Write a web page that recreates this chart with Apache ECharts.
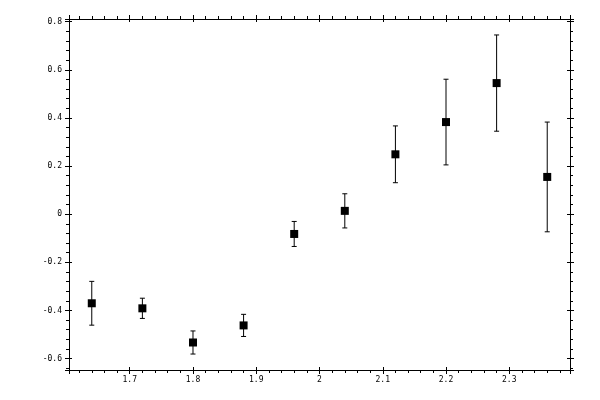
<!DOCTYPE html>
<html>
<head>
<meta charset="utf-8">
<script src="https://cdn.jsdelivr.net/npm/echarts@6/dist/echarts.min.js"></script>
<style>
  html, body { margin: 0; padding: 0; background: #fff; }
  #chart { width: 600px; height: 400px; }
</style>
</head>
<body>
<div id="chart"></div>
<script>
// data
const xValues = [1.64, 1.72, 1.80, 1.88, 1.96, 2.04, 2.12, 2.20, 2.28, 2.36]
const yValues = [-0.370, -0.391, -0.533, -0.462, -0.082, 0.014, 0.249, 0.383, 0.545, 0.155]
const yErrors = [0.091, 0.042, 0.048, 0.046, 0.052, 0.071, 0.118, 0.178, 0.200, 0.228]

// axis range = data range + 5% each side
const lows = yValues.map((v, i) => v - yErrors[i])
const highs = yValues.map((v, i) => v + yErrors[i])
const yLo = Math.min(...lows), yHi = Math.max(...highs)
const xLo = Math.min(...xValues), xHi = Math.max(...xValues)
const xPad = (xHi - xLo) * 0.05
const yPad = (yHi - yLo) * 0.05

const black = '#000'
const font = { fontFamily: 'DejaVu Sans Mono', fontSize: 8, color: black }

function makeAxis(kind, position, inside, withLabels) {
  const isX = kind === 'x'
  return {
    type: 'value',
    position: position,
    min: isX ? xLo - xPad : yLo - yPad,
    max: isX ? xHi + xPad : yHi + yPad,
    splitNumber: isX ? 8 : 7,
    scale: true,
    axisLine: { show: !inside, onZero: false, lineStyle: { color: black, width: 1 } },
    axisTick: { show: true, inside: inside, length: inside ? 3 : 4, lineStyle: { color: black, width: 1 } },
    minorTick: { show: !inside, splitNumber: 5, length: 3, lineStyle: { color: black, width: 1 } },
    axisLabel: {
      show: withLabels,
      showMinLabel: false,
      showMaxLabel: false,
      margin: isX ? 6 : 7,
      ...font,
    },
    splitLine: { show: false },
    minorSplitLine: { show: false },
  }
}

const myChart = echarts.init(document.getElementById('chart'))

const option = {
  animation: false,
  backgroundColor: '#fff',
  grid: { left: 69, right: 30, top: 19, bottom: 30, containLabel: false, outerBoundsMode: 'none' },
  xAxis: [
    makeAxis('x', 'bottom', false, true),
    makeAxis('x', 'top', false, false),
    makeAxis('x', 'bottom', true, false),
    makeAxis('x', 'top', true, false),
  ],
  yAxis: [
    makeAxis('y', 'left', false, true),
    makeAxis('y', 'right', false, false),
    makeAxis('y', 'left', true, false),
    makeAxis('y', 'right', true, false),
  ],
  series: [
    {
      // error bars
      type: 'custom',
      xAxisIndex: 0,
      yAxisIndex: 0,
      data: xValues.map((x, i) => [x, lows[i], highs[i]]),
      renderItem: function (params, api) {
        const top = api.coord([api.value(0), api.value(2)])
        const bot = api.coord([api.value(0), api.value(1)])
        const cap = 2.5
        const st = { stroke: black, lineWidth: 1 }
        return {
          type: 'group',
          children: [
            { type: 'line', shape: { x1: top[0], y1: top[1], x2: bot[0], y2: bot[1] }, style: st },
            { type: 'line', shape: { x1: top[0] - cap, y1: top[1], x2: top[0] + cap, y2: top[1] }, style: st },
            { type: 'line', shape: { x1: bot[0] - cap, y1: bot[1], x2: bot[0] + cap, y2: bot[1] }, style: st },
          ],
        }
      },
      silent: true,
      z: 2,
    },
    {
      type: 'scatter',
      xAxisIndex: 0,
      yAxisIndex: 0,
      data: xValues.map((x, i) => [x, yValues[i]]),
      symbol: 'rect',
      symbolSize: 8,
      itemStyle: { color: black, opacity: 1 },
      z: 3,
    },
  ],
}

myChart.setOption(option)
</script>
</body>
</html>
